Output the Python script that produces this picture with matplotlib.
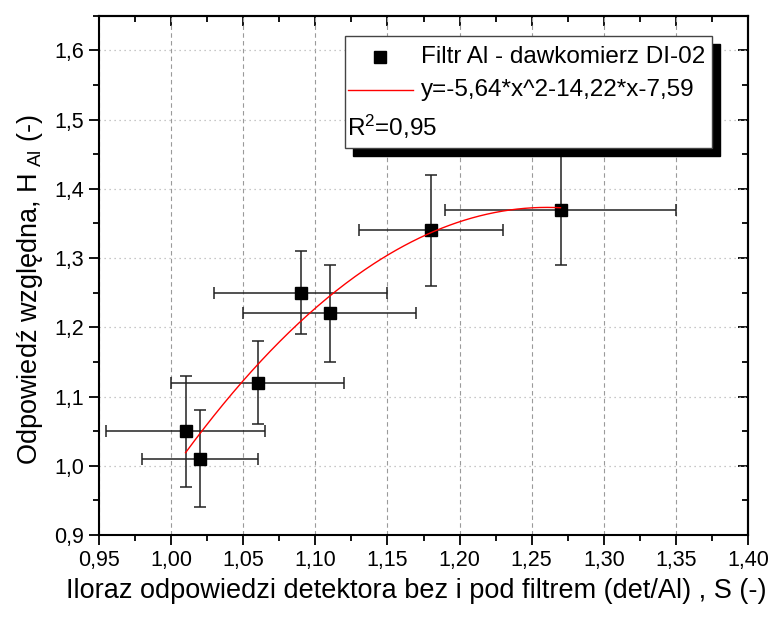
import numpy as np
import matplotlib.pyplot as plt
from matplotlib.patches import Rectangle
from matplotlib.lines import Line2D
from matplotlib.ticker import MultipleLocator, FuncFormatter

plt.rcParams['font.family'] = ['Liberation Sans', 'DejaVu Sans']
plt.rcParams['mathtext.fontset'] = 'custom'
plt.rcParams['mathtext.rm'] = 'Liberation Sans'
plt.rcParams['mathtext.it'] = 'Liberation Sans:italic'

# data
s_ratio = [1.01, 1.02, 1.06, 1.09, 1.11, 1.18, 1.27]
h_al = [1.05, 1.01, 1.12, 1.25, 1.22, 1.34, 1.37]
s_err = [0.055, 0.04, 0.06, 0.06, 0.06, 0.05, 0.08]
h_err = [0.08, 0.07, 0.06, 0.06, 0.07, 0.08, 0.08]

# quadratic fit coefficients (a*x^2 + b*x + c)
fit_a, fit_b, fit_c = -5.64, 14.22, -7.59
fit_label = "y=-5,64*x^2-14,22*x-7,59"
r2_label = "R$^2$=0,95"
series_label = "Filtr Al - dawkomierz DI-02"

fig = plt.figure(figsize=(7.74, 6.17), dpi=100)
ax = fig.add_axes([99 / 774, 1 - 535 / 617, 649 / 774, 519.3 / 617])

ax.set_xlim(0.95, 1.40)
ax.set_ylim(0.90, 1.65)

# grid
ax.set_axisbelow(True)
ax.xaxis.grid(True, which='major', linestyle=(0, (4, 3)), color='#9a9a9a', linewidth=0.8)
ax.yaxis.grid(True, which='major', linestyle=(0, (1, 3)), color='#b5b5b5', linewidth=0.9)

ax.errorbar(s_ratio, h_al, xerr=s_err, yerr=h_err, fmt='s', color='black',
            ecolor='#222222', markersize=8, elinewidth=1.1, capsize=4, capthick=1.1,
            zorder=3)

xf = np.linspace(min(s_ratio), max(s_ratio), 200)
yf = fit_a * xf ** 2 + fit_b * xf + fit_c
ax.plot(xf, yf, color='red', linewidth=1.0, zorder=4)

# ticks
comma = lambda fmt: FuncFormatter(lambda v, p: format(v, fmt).replace('.', ','))
ax.xaxis.set_major_locator(MultipleLocator(0.05))
ax.xaxis.set_minor_locator(MultipleLocator(0.025))
ax.yaxis.set_major_locator(MultipleLocator(0.1))
ax.yaxis.set_minor_locator(MultipleLocator(0.05))
ax.xaxis.set_major_formatter(comma('.2f'))
ax.yaxis.set_major_formatter(comma('.1f'))
ax.tick_params(which='major', direction='out', length=7, width=1.3, labelsize=15.5)
ax.tick_params(which='minor', direction='out', length=4, width=1.3)
for sp in ax.spines.values():
    sp.set_linewidth(1.5)

top = ax.secondary_xaxis('top')
top.xaxis.set_major_locator(MultipleLocator(0.05))
top.xaxis.set_minor_locator(MultipleLocator(0.025))
top.tick_params(which='major', direction='in', length=7, width=1.3, labeltop=False)
top.tick_params(which='minor', direction='in', length=4, width=1.3)
top.spines['top'].set_linewidth(1.5)
right = ax.secondary_yaxis('right')
right.yaxis.set_major_locator(MultipleLocator(0.1))
right.yaxis.set_minor_locator(MultipleLocator(0.05))
right.tick_params(which='major', direction='in', length=7, width=1.3, labelright=False)
right.tick_params(which='minor', direction='in', length=4, width=1.3)
right.spines['right'].set_linewidth(1.5)

# axis titles
fig.text(416 / 774, 1 - 591 / 617,
         "Iloraz odpowiedzi detektora bez i pod filtrem (det/Al) , S (-)",
         fontsize=19.5, ha='center', va='center')
fig.text(30 / 774, 1 - 290 / 617,
         "Odpowiedź względna, H$_{\\ \\mathrm{Al}}$ (-)",
         fontsize=19.5, ha='center', va='center', rotation=90)

# legend box with solid shadow
bx, by, bw, bh = 0.379, 0.7458, 0.565, 0.2157
ax.add_patch(Rectangle((bx + 0.0125, by - 0.0155), bw, bh, transform=ax.transAxes,
                       facecolor='black', edgecolor='black', zorder=8, clip_on=False))
ax.add_patch(Rectangle((bx, by), bw, bh, transform=ax.transAxes,
                       facecolor='white', edgecolor='#444444', linewidth=1.0,
                       zorder=9, clip_on=False))
ax.add_line(Line2D([0.433], [0.9205], marker='s', markersize=8, color='black',
                   transform=ax.transAxes, zorder=10))
ax.text(0.496, 0.9205, series_label, transform=ax.transAxes, fontsize=17.5,
        va='center', ha='left', zorder=10)
ax.add_line(Line2D([0.384, 0.484], [0.857, 0.857], color='red', linewidth=1.0,
                   transform=ax.transAxes, zorder=10))
ax.text(0.496, 0.857, fit_label, transform=ax.transAxes, fontsize=17.5,
        va='center', ha='left', zorder=10)
ax.text(0.382, 0.785, r2_label, transform=ax.transAxes, fontsize=17.5,
        va='center', ha='left', zorder=10)

fig.savefig('out.png', dpi=100)
